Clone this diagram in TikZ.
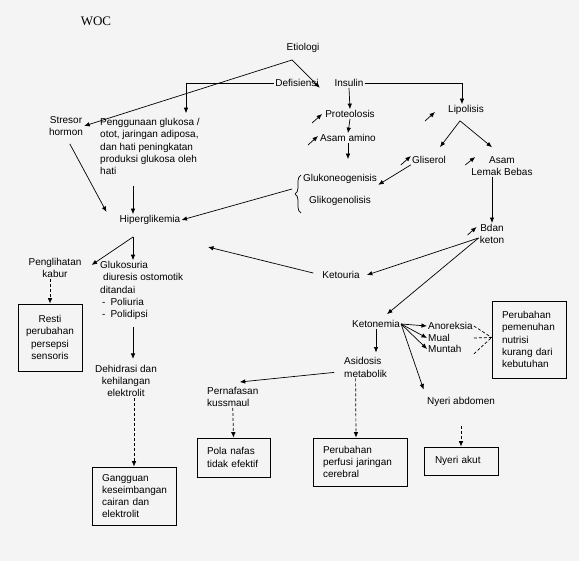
\documentclass[tikz,border=0pt]{standalone}
\usepackage{fontspec}
\setmainfont{Liberation Sans}
\newfontfamily\judulfont{Liberation Serif}
\usetikzlibrary{arrows.meta,decorations.pathreplacing}
\definecolor{latar}{RGB}{244,244,244}

\begin{document}
\begin{tikzpicture}[x=1pt,y=-1pt,
  every node/.style={inner sep=1pt, font=\fontsize{10}{12.2}\selectfont},
  kotak/.style={draw, line width=0.7pt, align=left, inner xsep=10pt, inner ysep=0pt},
  arr/.style={-{Latex[length=5.5pt,width=4.5pt]}, line width=0.7pt},
  darr/.style={arr, dash pattern=on 3pt off 2pt},
  putus/.style={line width=0.7pt, dash pattern=on 3pt off 2pt}]
\fill[latar] (0,0) rectangle (579,561);
\useasboundingbox (0,0) rectangle (579,561);

\node[font=\fontsize{13}{15}\selectfont\judulfont] (woc) at (96,21) {WOC};
\node (etio) at (303,48) {Etiologi};
\node (defis) at (297,83) {Defisiensi};
\node (insulin) at (349,83) {Insulin};
\node (proteo) at (350,114) {Proteolosis};
\node (amino) at (348,138) {Asam amino};
\node (lipo) at (466,110) {Lipolisis};
\node (glis) at (429,160) {Gliserol};
\node[align=center] (lemak) at (502,166) {Asam\\Lemak Bebas};
\node (gluko) at (340,179) {Glukoneogenisis};
\node (gliko) at (340,201) {Glikogenolisis};
\node[align=center] (stresor) at (66,126) {Stresor\\hormon};
\node[align=left, anchor=west] (guna) at (99,146.5) {Penggunaan glukosa /\\otot, jaringan adiposa,\\dan hati peningkatan\\produksi glukosa oleh\\hati};
\node (hiper) at (150,220) {Hiperglikemia};
\node[align=center] (bdan) at (492,234) {Bdan\\keton};
\node (ketouria) at (341,275) {Ketouria};
\node[align=center] (lihat) at (55,268) {Penglihatan\\kabur};
\node[align=left, anchor=west] (glukos) at (99,290.5) {Glukosuria\\\hspace*{3pt}diuresis ostomotik\\ditandai\\\hspace*{2pt}-\hspace{5pt}Poliuria\\\hspace*{2pt}-\hspace{5pt}Polidipsi};
\node[align=center] (dehid) at (126,381) {Dehidrasi dan\\kehilangan\\elektrolit};
\node (keton) at (376,324) {Ketonemia};
\node[anchor=west] (anor) at (427,326) {Anoreksia};
\node[anchor=west] (mual) at (427,338) {Mual};
\node[anchor=west] (muntah) at (427,349) {Muntah};
\node[align=left, anchor=west] (asid) at (343,367.5) {Asidosis\\metabolik};
\node[align=left, anchor=west] (napas) at (206,397) {Pernafasan\\kussmaul};
\node (abdomen) at (461,402) {Nyeri abdomen};

\node[kotak, align=center, inner xsep=1pt, text width=62pt, minimum height=67pt] (resti) at (50,337.5) {Resti\\perubahan\\persepsi\\sensoris};
\node[kotak, text width=64pt, minimum height=58pt] (ganggu) at (134,496) {Gangguan\\keseimbangan\\cairan dan\\elektrolit};
\node[kotak, text width=54pt, minimum height=77pt] (nutrisi) at (529,339.5) {Perubahan\\pemenuhan\\nutrisi\\kurang dari\\kebutuhan};
\node[kotak, text width=53pt, minimum height=39pt] (pola) at (233.5,457.5) {Pola nafas\\tidak efektif};
\node[kotak, text width=74pt, minimum height=48pt] (perfusi) at (360,462) {Perubahan\\perfusi jaringan\\cerebral};
\node[kotak, text width=52pt, inner xsep=11pt, minimum height=28pt] (akut) at (461,461) {Nyeri akut};

\coordinate (etB) at (292,60);
\coordinate (lipoB) at ([shift={(-6,5)}]lipo.south);
\coordinate (hB) at (133,237);
\coordinate (hIn) at ([shift={(-17,0)}]hiper.north);
\coordinate (bdanB) at ([shift={(0,4)}]bdan.west);
\coordinate (braceB) at (301,213);
\coordinate (braceT) at (301,175);
\coordinate (braceU) at (292,189);
\coordinate (kosong) at (208,247);
\coordinate (nutrisiIn) at ([shift={(0,-2)}]nutrisi.west);

\draw[arr] (etB) -- (stresor.east);
\draw[arr] (etB) -- (defis.south east);
\draw[arr] (defis.west) -| ([shift={(87,-4)}]guna.north west);
\draw[arr] (insulin.east) -| ([shift={(-4,0)}]lipo.north);
\draw[arr] (insulin.south) -- (proteo.north);
\draw[arr] (proteo.south) -- (amino.north);
\draw[arr, shorten >=14pt] (amino.south) -- (amino.south |- gluko.north);

\draw[arr] ([shift={(-12,9)}]proteo.west) -- ++(10,-9);
\draw[arr] ([shift={(-11,7)}]amino.west) -- ++(10,-9);
\draw[arr] ([shift={(-22,11)}]lipo.west) -- ++(10,-9);
\draw[arr] ([shift={(-10,5)}]glis.west) -- ++(10,-9);
\draw[arr] ([shift={(-5,-1)}]lemak.west) -- ++(10,-8);
\draw[arr] ([shift={(-11,1)}]bdan.west) -- ++(9,-8);

\draw[arr] (lipoB) -- ([shift={(11,-8)}]glis.north);
\draw[arr] (lipoB) -- ([shift={(-10,-8)}]lemak.north);
\draw[arr] (glis.south west) -- (gluko.south east);
\draw[line width=0.7pt, decorate, decoration={brace, amplitude=6pt}] (braceB) -- (braceT);
\draw[arr] (braceU) -- (hiper.east);
\draw[arr, shorten <=8pt] (stresor.south) -- ([shift={(-12,-8)}]hiper.west);
\draw[arr, shorten <=10pt] (hIn |- guna.south) -- (hIn);
\draw[arr] (hB) -- (hB |- glukos.north);
\draw[arr] (hB) -- ([shift={(9,-3)}]lihat.east);
\draw[darr] (resti.north |- lihat.south) -- (resti.north);
\draw[arr, shorten <=6pt, shorten >=5pt] (hB |- glukos.south) -- (hB |- dehid.north);
\draw[darr] (ganggu.north |- dehid.south) -- (ganggu.north);

\draw[arr] (bdan.north |- lemak.south) -- (bdan.north);
\draw[arr] (bdanB) -- ([shift={(6,0)}]ketouria.east);
\draw[arr] (bdanB) -- ([shift={(11,-5)}]keton.north);
\draw[arr, shorten <=8pt] (ketouria.west) -- (kosong);
\draw[arr] (keton.east) -- (anor.west);
\draw[arr] (keton.east) -- (mual.west);
\draw[arr] (keton.east) -- (muntah.west);
\draw[arr, shorten >=7pt] (keton.east) -- (abdomen.north west);
\draw[putus] (anor.east) -- (nutrisiIn);
\draw[putus] (anor.east |- mual.east) -- (nutrisiIn);
\draw[putus] (anor.east |- muntah.south) -- (nutrisiIn);
\draw[arr, shorten >=4pt] (keton.south) -- (keton.south |- asid.north);
\draw[arr, shorten <=9pt] ([shift={(0,4)}]asid.west) -- ([shift={(7,-4)}]napas.north);
\draw[darr] (napas.south) -- (pola.north);
\draw[darr] ([shift={(-10,0)}]asid.south) -- ([shift={(-4,0)}]perfusi.north);
\draw[darr, shorten <=18pt] (abdomen.south) -- (akut.north);
\end{tikzpicture}
\end{document}
